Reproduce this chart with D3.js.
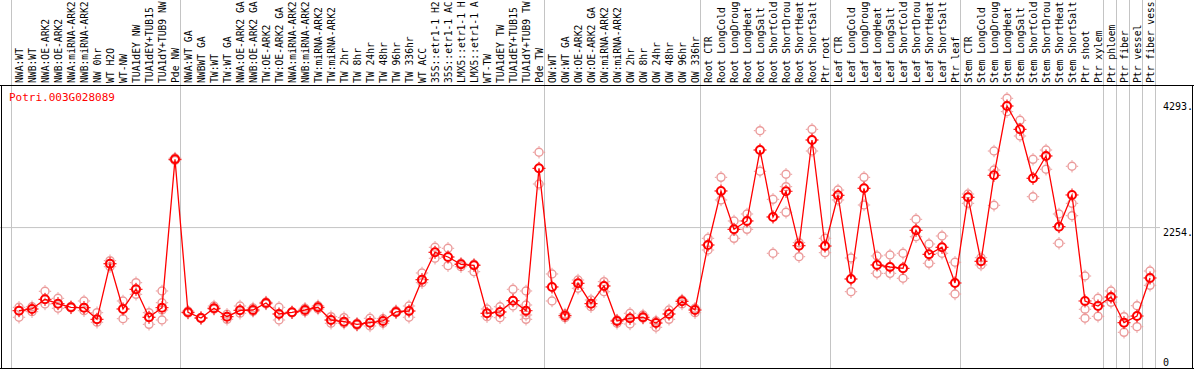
<!DOCTYPE html>
<html><head><meta charset="utf-8">
<script src="https://cdn.jsdelivr.net/npm/d3@7"></script>
<style>
html,body{margin:0;padding:0;background:#fff;}
svg{display:block;}
text{font-family:"DejaVu Sans Mono",monospace;font-size:10px;}
</style></head>
<body><svg id="chart" width="1194" height="370"></svg>
<script>
const geneName = "Potri.003G028089";

const samples = [
 "NWA:WT","NWB:WT","NWA:OE-ARK2","NWB:OE-ARK2","NWA:miRNA-ARK2","NWB:miRNA-ARK2","NW 0hr","WT H2O","WT-NW","TUA1dEY NW","TUA1dEY+TUB15 NW","TUA1dY+TUB9 NW","Pde NW",
 "NWA:WT GA","NWBWT GA","TW:WT","TW:WT GA","NWA:OE-ARK2 GA","NWB:OE-ARK2 GA","TW:OE-ARK2","TW:OE-ARK2 GA","NWA:miRNA-ARK2 GA","NWB:miRNA-ARK2 GA","TW:miRNA-ARK2","TW:miRNA-ARK2 GA","TW 2hr","TW 8hr","TW 24hr","TW 48hr","TW 96hr","TW 336hr","WT ACC","35S::etr1-1 H2O","35S::etr1-1 ACC","LMX5::etr1-1 H2O","LMX5::etr1-1 ACC","WT-TW","TUA1dEY TW","TUA1dEY+TUB15 TW","TUA1dY+TUB9 TW","Pde TW",
 "OW:WT","OW:WT GA","OW:OE-ARK2","OW:OE-ARK2 GA","OW:miRNA-ARK2","OW:miRNA-ARK2 GA","OW 2hr","OW 8hr","OW 24hr","OW 48hr","OW 96hr","OW 336hr",
 "Root CTR","Root LongCold","Root LongDrought","Root LongHeat","Root LongSalt","Root ShortCold","Root ShortDrought","Root ShortHeat","Root ShortSalt","Ptr root",
 "Leaf CTR","Leaf LongCold","Leaf LongDrought","Leaf LongHeat","Leaf LongSalt","Leaf ShortCold","Leaf ShortDrought","Leaf ShortHeat","Leaf ShortSalt","Ptr leaf",
 "Stem CTR","Stem LongCold","Stem LongDrought","Stem LongHeat","Stem LongSalt","Stem ShortCold","Stem ShortDrought","Stem ShortHeat","Stem ShortSalt","Ptr shoot","Ptr xylem",
 "Ptr phloem","Ptr fiber","Ptr vessel","Ptr fiber vessel"
];

// index of first sample of each group (vertical separators)
const groupStarts = [0, 13, 41, 53, 63, 73, 84, 85, 86, 87, 88];

const means = [
 860,889,1051,978,917,911,716,1648,889,1219,750,911,3399,
 833,738,901,760,867,872,989,805,833,872,917,704,676,632,659,688,839,855,1380,1840,1761,1638,1622,817,839,1028,860,3248,
 1258,776,1320,978,1275,688,733,750,654,805,1018,872,
 1962,2868,2225,2365,3555,2432,2863,1950,3723,1945,
 2796,1392,2913,1627,1593,1571,2209,1806,1924,1325,
 2762,1689,3131,4293,3902,3081,3455,2269,2801,1023,939,
 1090,659,771,1409
];

const replicates = [
 [917,860,750],[927,844,889],[1186,973,1051],[1068,901,978],[930,917,905],[1023,860,911],[827,666,716],[1699,1598,1648],[1023,726,889],[1330,1135,1219],[827,632,750],[1191,994,704,872],[3420,3399,3380],
 [855,817,833],[738,745,730],[939,884,901],[800,716,760],[939,817,867],[906,850,872],[1006,973,989],[917,704,805],[840,833,825],[901,844,872],[944,889,917],[760,649,704],[743,649,676],[649,615,632],[733,604,659],[726,649,688],[860,827,839],[939,750,855],[1493,1330,1380],[1924,1739,1840],[1907,1615,1761],[1655,1598,1638],[1638,1514,1622],[889,760,817],[927,743,839],[1219,939,1028],[1191,956,788,716],[3517,2985,3248],
 [1476,1023,1258],[805,743,776],[1375,1236,1320],[1040,927,978],[1347,1179,1275],[704,649,688],[817,637,733],[788,733,750],[688,582,654],[872,716,805],[1040,973,1018],[901,827,872],
 [2074,1878,1962],[3097,2717,2868],[2365,2074,2225],[2482,2225,2365],[3879,3198,3555],[2728,1823,2432],[3148,2940,2510],[2001,1766,1950],[3902,3538,3723],[2074,1833,1945],
 [2884,2717,2796],[1744,1179,1392],[3097,2633,2913],[1778,1487,1627],[1794,1487,1593],[1823,1404,1571],[2393,2101,2209],[1979,1655,1806],[2113,1823,1924],[1672,1140,1325],
 [2817,2661,2762],[1749,1627,1689],[3538,3220,2628],[4422,4198,4293],[4053,3790,3902],[3399,2772,3081],[3555,3232,3455],[2482,1991,2269],[3282,2661,2453],[1442,884,733],[1068,766,939],
 [1191,1001,1090],[760,498,659],[944,592,771],[1526,1286,1409]
];

const axisTicks = [4293, 2254, 0];
const axisTickLabels = ["4293.", "2254.", "0"];

const svg = d3.select("#chart");
const W = 1194, H = 370;
const headerBottom = 85, plotBottom = 368;
const maxLabelChars = 14;

const xBand = d3.scaleBand().domain(d3.range(samples.length + 1)).range([11, 11 + 13 * (samples.length + 1)]);
const xc = i => xBand(i) + 8;
const y = d3.scaleLinear().domain([0, 4293]).range([362, 106]);

// horizontal mid grid line
svg.append("line").attr("x1", 0).attr("x2", 1160)
  .attr("y1", y(axisTicks[1])).attr("y2", y(axisTicks[1]))
  .attr("stroke", "#c4c4c4").attr("stroke-width", 1);

// vertical group separators
svg.selectAll("line.vsep").data(groupStarts).join("line").attr("class", "vsep")
  .attr("x1", d => xBand(d) + 0.5).attr("x2", d => xBand(d) + 0.5)
  .attr("y1", 0).attr("y2", plotBottom)
  .attr("stroke", "#c4c4c4").attr("stroke-width", 1);

// frame
svg.append("line").attr("x1", 0).attr("x2", W).attr("y1", headerBottom + 0.5).attr("y2", headerBottom + 0.5).attr("stroke", "#000");
svg.append("line").attr("x1", 0).attr("x2", W).attr("y1", plotBottom + 0.5).attr("y2", plotBottom + 0.5).attr("stroke", "#000");
svg.append("line").attr("x1", 1.5).attr("x2", 1.5).attr("y1", headerBottom).attr("y2", plotBottom).attr("stroke", "#000");
svg.append("line").attr("x1", W - 1.5).attr("x2", W - 1.5).attr("y1", headerBottom).attr("y2", plotBottom).attr("stroke", "#000");

// sample labels (header shows at most 14 characters, as in the original)
svg.selectAll("text.lab").data(samples).join("text").attr("class", "lab")
  .attr("transform", (d, i) => `translate(${xc(i) + 3.5},83) rotate(-90)`)
  .attr("text-anchor", "start").attr("fill", "#000")
  .style("font-size", "9.7px")
  .text(d => d.slice(0, maxLabelChars));

// gene name
svg.append("text").attr("x", 9).attr("y", 101).attr("fill", "#f00")
  .style("font-size", "11px").text(geneName);

// right axis labels
svg.selectAll("text.ax").data(axisTicks).join("text").attr("class", "ax")
  .attr("x", 1163)
  .attr("y", (d, i) => y(d) + (i === 1 ? 8.5 : 3.5))
  .attr("fill", "#000").text((d, i) => axisTickLabels[i]);

function marker(g, cx, cy, color, sw) {
  g.append("circle").attr("cx", cx).attr("cy", cy).attr("r", 4)
    .attr("fill", "none").attr("stroke", color).attr("stroke-width", sw);
  const t = 4 + sw / 2;
  [[0, -1], [0, 1], [-1, 0], [1, 0]].forEach(([dx, dy]) => {
    g.append("line").attr("x1", cx + dx * t).attr("y1", cy + dy * t)
      .attr("x2", cx + dx * (t + 1.5)).attr("y2", cy + dy * (t + 1.5))
      .attr("stroke", color).attr("stroke-width", 1);
  });
}

// replicates
const rg = svg.append("g");
replicates.forEach((reps, i) => reps.forEach(v => marker(rg, xc(i), y(v), "#eb9a9a", 1.4)));

// mean line
svg.append("path").datum(means)
  .attr("d", d3.line().x((d, i) => xc(i)).y(d => y(d)))
  .attr("fill", "none").attr("stroke", "#f00").attr("stroke-width", 1.3);

// mean markers
const mg = svg.append("g");
means.forEach((v, i) => marker(mg, xc(i), y(v), "#f00", 2));
</script></body></html>
